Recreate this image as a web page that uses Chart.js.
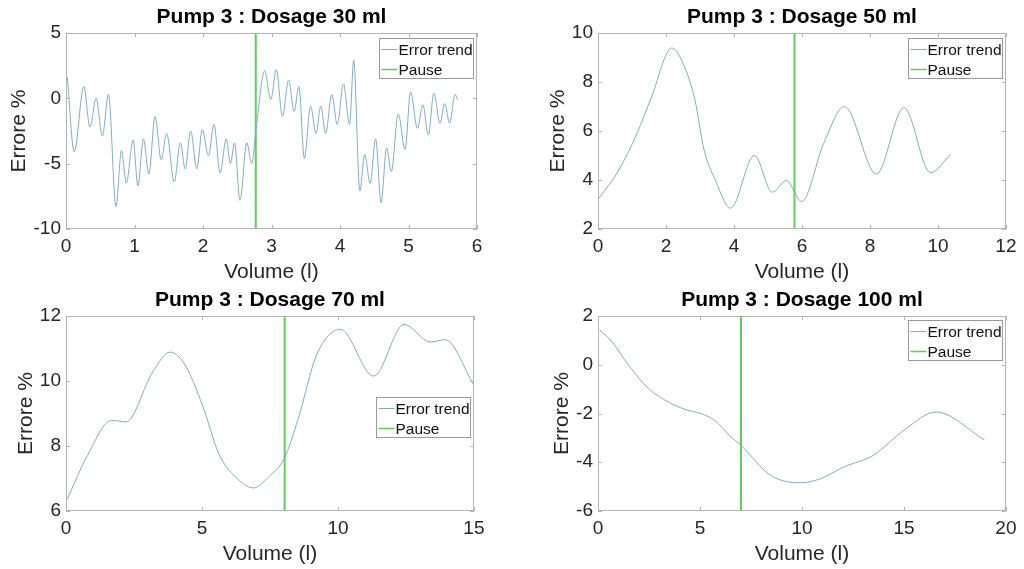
<!DOCTYPE html>
<html>
<head>
<meta charset="utf-8">
<title>Pump 3 error trend</title>
<script src="https://cdn.jsdelivr.net/npm/chart.js@4.4.1/dist/chart.umd.min.js"></script>
<style>
  html, body { margin: 0; padding: 0; background: #fff; overflow: hidden; }
  #wrap { position: relative; width: 1024px; height: 569px; }
  #wrap canvas { position: absolute; }
</style>
</head>
<body>
<div id="wrap"></div>
<script>
// Dosage 30 ml
const vol30 = [0.02, 0.12, 0.26, 0.35, 0.44, 0.53, 0.62, 0.73, 0.81, 0.88, 0.98, 1.05, 1.13, 1.21,
  1.30, 1.39, 1.47, 1.58, 1.67, 1.74, 1.82, 1.91, 1.99, 2.08, 2.16, 2.25, 2.34, 2.40,
  2.46, 2.54, 2.64, 2.71, 2.78, 2.90, 2.99, 3.07, 3.16, 3.25, 3.33, 3.40, 3.48, 3.57, 3.65,
  3.72, 3.79, 3.88, 3.96, 4.05, 4.14, 4.20, 4.29, 4.36, 4.44, 4.52, 4.60, 4.68, 4.75,
  4.85, 4.95, 5.03, 5.13, 5.21, 5.29, 5.37, 5.46, 5.53, 5.60, 5.68, 5.72];
const err30 = [1.6, -4.1, 0.9, -2.2, 0.0, -2.9, 0.3, -8.3, -4.0, -6.5, -3.2, -6.7, -3.1, -5.8,
  -1.4, -4.7, -2.7, -6.4, -3.4, -5.4, -2.5, -5.4, -2.4, -4.4, -2.0, -5.7, -3.1, -5.0,
  -3.4, -7.8, -3.4, -5.0, -2.1, 2.1, -0.1, 2.2, -1.4, 1.4, -1.0, 0.9, -4.6, -0.6, -2.7,
  -0.6, -2.7, 0.3, -2.0, 1.1, -2.0, 2.9, -7.1, -4.3, -6.5, -3.1, -8.0, -3.8, -5.6,
  -1.2, -3.9, 0.5, -2.3, -0.5, -2.8, 0.4, -1.9, -0.4, -1.9, 0.3, -0.1];
const pause30 = 2.77;
const xTicks30 = [0, 1, 2, 3, 4, 5, 6];
const yTicks30 = [-10, -5, 0, 5];

// Dosage 50 ml
const vol50 = [0.03, 0.59, 1.15, 1.58, 2.17, 2.56, 2.85, 3.12, 3.45, 3.90, 4.60, 5.13, 5.54,
  5.99, 6.64, 7.25, 8.19, 9.00, 9.78, 10.38];
const err50 = [3.26, 4.35, 5.91, 7.41, 9.39, 8.57, 7.28, 5.23, 4.0, 2.85, 5.0, 3.5, 3.98,
  3.12, 5.5, 7.0, 4.25, 6.96, 4.3, 5.05];
const pause50 = 5.78;
const xTicks50 = [0, 2, 4, 6, 8, 10, 12];
const yTicks50 = [2, 4, 6, 8, 10];

// Dosage 70 ml
const vol70 = [0.04, 0.79, 1.68, 2.20, 3.19, 3.83, 4.35, 5.02, 5.62, 6.23, 6.90, 7.45, 8.02,
  8.54, 9.21, 10.09, 11.31, 12.43, 13.40, 13.94, 15.0];
const err70 = [6.35, 7.71, 8.79, 8.74, 10.28, 10.89, 10.53, 9.25, 7.76, 7.05, 6.71, 7.05, 7.61,
  8.84, 10.79, 11.59, 10.15, 11.74, 11.2, 11.27, 9.87];
const pause70 = 8.04;
const xTicks70 = [0, 5, 10, 15];
const yTicks70 = [6, 8, 10, 12];

// Dosage 100 ml
const vol100 = [0.08, 0.7, 1.5, 2.48, 3.45, 4.26, 5.07, 5.72, 6.53, 7.0, 8.47, 9.93, 10.9,
  12.03, 13.49, 15.1, 16.57, 18.95];
const err100 = [1.44, 0.93, -0.02, -0.98, -1.53, -1.83, -2.01, -2.28, -2.97, -3.3, -4.54, -4.84,
  -4.68, -4.2, -3.72, -2.62, -1.94, -3.08];
const pause100 = 7.01;
const xTicks100 = [0, 5, 10, 15, 20];
const yTicks100 = [-6, -4, -2, 0, 2];

const TREND = 'rgb(132,172,194)';
const PAUSE = 'rgb(92,208,92)';
const AXIS = '#b4b4b4';
const TEXT = '#262626';
const FAMILY = "'Liberation Sans', Arial, Helvetica, sans-serif";

Chart.defaults.font.family = FAMILY;

// MATLAB-like axes: full box, inward ticks on all four sides, boxed legend
const matlabAxes = {
  id: 'matlabAxes',
  afterDatasetsDraw(chart) {
    const { ctx, chartArea: a, scales } = chart;
    ctx.save();
    ctx.strokeStyle = AXIS;
    ctx.lineWidth = 1;
    ctx.beginPath();
    scales.x.ticks.forEach(t => {
      const px = Math.round(scales.x.getPixelForValue(t.value)) + 0.5;
      ctx.moveTo(px, a.bottom); ctx.lineTo(px, a.bottom - 4);
      ctx.moveTo(px, a.top); ctx.lineTo(px, a.top + 4);
    });
    scales.y.ticks.forEach(t => {
      const py = Math.round(scales.y.getPixelForValue(t.value)) + 0.5;
      ctx.moveTo(a.left, py); ctx.lineTo(a.left + 4, py);
      ctx.moveTo(a.right, py); ctx.lineTo(a.right - 4, py);
    });
    ctx.stroke();
    ctx.strokeRect(Math.round(a.left) + 0.5, Math.round(a.top) + 0.5,
      Math.round(a.right - a.left) - 1, Math.round(a.bottom - a.top) - 1);
    ctx.restore();
  },
  afterDraw(chart, args, opts) {
    const { ctx, chartArea: a } = chart;
    const w = 94, h = 40;
    const x = Math.round(a.right - 4 - w) + 0.5;
    const y = Math.round(a.top + opts.top) + 0.5;
    ctx.save();
    ctx.fillStyle = '#fff';
    ctx.fillRect(x, y, w, h);
    ctx.strokeStyle = '#9a9a9a';
    ctx.lineWidth = 1;
    ctx.strokeRect(x, y, w, h);
    ctx.font = '15.5px ' + FAMILY;
    ctx.textBaseline = 'middle';
    chart.data.datasets.forEach((ds, i) => {
      const ly = y + 11 + i * 20;
      ctx.strokeStyle = ds.borderColor;
      ctx.lineWidth = i === 0 ? 1 : 1.5;
      ctx.beginPath();
      ctx.moveTo(x + 2, ly); ctx.lineTo(x + 18, ly);
      ctx.stroke();
      ctx.fillStyle = '#111';
      ctx.fillText(ds.label, x + 19, ly + 1);
    });
    ctx.restore();
  }
};

const panels = [
  { title: 'Pump 3 : Dosage 30 ml', vol: vol30, err: err30, pause: pause30, xTicks: xTicks30, yTicks: yTicks30,
    box: { x0: 66, y0: 33, x1: 477, y1: 229 }, yTitleX: 19, legendTop: 5 },
  { title: 'Pump 3 : Dosage 50 ml', vol: vol50, err: err50, pause: pause50, xTicks: xTicks50, yTicks: yTicks50,
    box: { x0: 598, y0: 33, x1: 1009, y1: 229 }, yTitleX: 558, legendTop: 5 },
  { title: 'Pump 3 : Dosage 70 ml', vol: vol70, err: err70, pause: pause70, xTicks: xTicks70, yTicks: yTicks70,
    box: { x0: 66, y0: 316, x1: 477, y1: 511 }, yTitleX: 26, legendTop: 81 },
  { title: 'Pump 3 : Dosage 100 ml', vol: vol100, err: err100, pause: pause100, xTicks: xTicks100, yTicks: yTicks100,
    box: { x0: 598, y0: 316, x1: 1009, y1: 511 }, yTitleX: 562, legendTop: 4 }
];

const wrap = document.getElementById('wrap');

function makePanel(p) {
  const L = p.yTitleX - 19, T = p.box.y0 - 33;
  const W = p.box.x1 + 14 - L, H = p.box.y1 + 56 - T;
  const canvas = document.createElement('canvas');
  canvas.width = W;
  canvas.height = H;
  canvas.style.left = L + 'px';
  canvas.style.top = T + 'px';
  wrap.appendChild(canvas);

  const yMin = p.yTicks[0], yMax = p.yTicks[p.yTicks.length - 1];
  new Chart(canvas, {
    type: 'scatter',
    data: {
      datasets: [
        { label: 'Error trend', data: p.vol.map((v, i) => ({ x: v, y: p.err[i] })),
          showLine: true, borderColor: TREND, borderWidth: 1, pointRadius: 0,
          cubicInterpolationMode: 'monotone' },
        { label: 'Pause', data: [{ x: p.pause, y: yMin }, { x: p.pause, y: yMax }],
          showLine: true, borderColor: PAUSE, borderWidth: 2, pointRadius: 0, tension: 0 }
      ]
    },
    options: {
      responsive: false,
      animation: false,
      events: [],
      layout: { padding: { left: 0, right: 14, top: 0, bottom: 0 }, autoPadding: false },
      plugins: {
        legend: { display: false },
        tooltip: { enabled: false },
        title: { display: true, fullSize: false, text: p.title, color: '#000',
          font: { size: 21, weight: 'bold' }, padding: { top: 4.5, bottom: 3.3 } },
        matlabAxes: { top: p.legendTop }
      },
      scales: {
        x: {
          type: 'linear', min: p.xTicks[0], max: p.xTicks[p.xTicks.length - 1],
          afterBuildTicks: s => { s.ticks = p.xTicks.map(v => ({ value: v })); },
          afterFit: s => { s.height = 56; },
          grid: { display: false, drawTicks: false }, border: { display: false },
          ticks: { padding: 6.5, color: TEXT, font: { size: 19 }, autoSkip: false, maxRotation: 0 },
          title: { display: true, text: 'Volume (l)', color: TEXT, font: { size: 21 },
            padding: { top: 0, bottom: 0.5 } }
        },
        y: {
          type: 'linear', min: yMin, max: yMax,
          afterBuildTicks: s => { s.ticks = p.yTicks.map(v => ({ value: v })); },
          afterFit: s => { s.width = p.box.x0 - L; },
          grid: { display: false, drawTicks: false }, border: { display: false },
          ticks: { padding: 5, color: TEXT, font: { size: 19 }, autoSkip: false },
          title: { display: true, text: 'Errore %', color: TEXT, font: { size: 21 },
            padding: { top: 6.4, bottom: 0 } }
        }
      }
    },
    plugins: [matlabAxes]
  });
}

panels.forEach(makePanel);
</script>
</body>
</html>
